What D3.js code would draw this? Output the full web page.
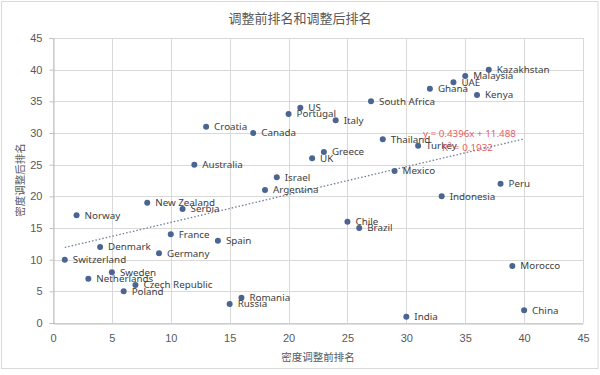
<!DOCTYPE html>
<meta charset="utf-8">
<style>
  body { margin: 0; background: #fff; }
  svg { font-family: "Noto Sans", "Noto Sans CJK SC", sans-serif; }
  .tick text { fill: #595959; font-size: 11px; }
</style>
<svg width="600" height="375"></svg>
<script src="https://d3js.org/d3.v7.min.js"></script>
<script>

// ranks before (x) and after (y) density adjustment
var countries = ["Switzerland", "Norway", "Netherlands", "Denmark", "Sweden", "Poland", "Czech Republic",
  "New Zealand", "Germany", "France", "Serbia", "Australia", "Croatia", "Spain", "Russia", "Romania",
  "Canada", "Argentina", "Israel", "Portugal", "US", "UK", "Greece", "Italy", "Chile", "Brazil",
  "South Africa", "Thailand", "Mexico", "India", "Turkey", "Ghana", "Indonesia", "UAE", "Malaysia",
  "Kenya", "Kazakhstan", "Peru", "Morocco", "China"];
var rankBefore = [1, 2, 3, 4, 5, 6, 7, 8, 9, 10, 11, 12, 13, 14, 15, 16, 17, 18, 19, 20,
  21, 22, 23, 24, 25, 26, 27, 28, 29, 30, 31, 32, 33, 34, 35, 36, 37, 38, 39, 40];
var rankAfter = [10, 17, 7, 12, 8, 5, 6, 19, 11, 14, 18, 25, 31, 13, 3, 4, 30, 21, 23, 33,
  34, 26, 27, 32, 16, 15, 35, 29, 24, 1, 28, 37, 20, 38, 39, 36, 40, 22, 9, 2];
var xTicks = [0, 5, 10, 15, 20, 25, 30, 35, 40, 45];
var yTicks = [0, 5, 10, 15, 20, 25, 30, 35, 40, 45];

var data = countries.map(function(c, i) { return {name: c, x: rankBefore[i], y: rankAfter[i]}; });

var svg = d3.select("svg");
var plotL = 53, plotR = 583, plotT = 38, plotB = 323;

var x = d3.scaleLinear().domain([0, 45]).range([plotL, plotR]);
var y = d3.scaleLinear().domain([0, 45]).range([plotB, plotT]);

// chart border
svg.append("rect")
    .attr("x", 1.5).attr("y", 1.5)
    .attr("width", 596.5).attr("height", 367)
    .attr("fill", "none").attr("stroke", "#d9d9d9");

// grid
svg.append("g").selectAll("line").data(yTicks).enter().append("line")
    .attr("x1", plotL).attr("x2", plotR)
    .attr("y1", function(d) { return Math.round(y(d)) + 0.5; })
    .attr("y2", function(d) { return Math.round(y(d)) + 0.5; })
    .attr("stroke", "#d9d9d9");
svg.append("g").selectAll("line").data(xTicks).enter().append("line")
    .attr("y1", plotT).attr("y2", plotB)
    .attr("x1", function(d) { return Math.round(x(d)) + 0.5; })
    .attr("x2", function(d) { return Math.round(x(d)) + 0.5; })
    .attr("stroke", "#d9d9d9");

// axes
var xAxis = svg.append("g")
    .attr("transform", "translate(0," + (Math.round(plotB) + 0.5) + ")")
    .call(d3.axisBottom(x).tickValues(xTicks).tickSize(0).tickPadding(11));
xAxis.select(".domain").attr("stroke", "#bfbfbf");

var yAxis = svg.append("g")
    .attr("transform", "translate(" + (plotL + 0.5) + ",0)")
    .call(d3.axisLeft(y).tickValues(yTicks).tickSize(4).tickPadding(7));
yAxis.select(".domain").attr("stroke", "#bfbfbf");
yAxis.selectAll(".tick line").attr("stroke", "#bfbfbf");

// linear trendline (least squares)
var mx = d3.mean(data, function(d) { return d.x; }),
    my = d3.mean(data, function(d) { return d.y; });
var sxy = d3.sum(data, function(d) { return (d.x - mx) * (d.y - my); }),
    sxx = d3.sum(data, function(d) { return (d.x - mx) * (d.x - mx); }),
    syy = d3.sum(data, function(d) { return (d.y - my) * (d.y - my); });
var slope = sxy / sxx, intercept = my - slope * mx, r2 = sxy * sxy / (sxx * syy);
var x0 = d3.min(rankBefore), x1 = d3.max(rankBefore);

svg.append("line")
    .attr("x1", x(x0)).attr("y1", y(intercept + slope * x0))
    .attr("x2", x(x1)).attr("y2", y(intercept + slope * x1))
    .attr("stroke", "#6f7f96")
    .attr("stroke-width", 1.3)
    .attr("stroke-dasharray", "1.5,2");

// points
svg.append("g").selectAll("circle").data(data).enter().append("circle")
    .attr("cx", function(d) { return x(d.x); })
    .attr("cy", function(d) { return y(d.y); })
    .attr("r", 3)
    .attr("fill", "#4a6591");

svg.append("g").selectAll("text").data(data).enter().append("text")
    .attr("x", function(d) { return x(d.x) + 8; })
    .attr("y", function(d) { return y(d.y); })
    .attr("dy", "0.35em")
    .attr("fill", "#404040")
    .attr("font-size", 9.8)
    .text(function(d) { return d.name; });

// equation label
var eq = svg.append("g").attr("fill", "#e0474c").attr("font-size", 9.8).attr("opacity", 0.85);
eq.append("text").attr("x", 423).attr("y", 137)
    .text("y = " + slope.toFixed(4) + "x + " + intercept.toFixed(3));
eq.append("text").attr("x", 442).attr("y", 151)
    .text("R² = " + r2.toFixed(4));

// titles
svg.append("text")
    .attr("x", 300).attr("y", 23)
    .attr("text-anchor", "middle")
    .attr("fill", "#595959")
    .attr("font-size", 13)
    .text("调整前排名和调整后排名");

svg.append("text")
    .attr("x", 318).attr("y", 361)
    .attr("text-anchor", "middle")
    .attr("fill", "#595959")
    .attr("font-size", 10.5)
    .text("密度调整前排名");

svg.append("text")
    .attr("transform", "translate(20,180)rotate(-90)")
    .attr("text-anchor", "middle")
    .attr("dy", "0.35em")
    .attr("fill", "#595959")
    .attr("font-size", 10.5)
    .text("密度调整后排名");

</script>
